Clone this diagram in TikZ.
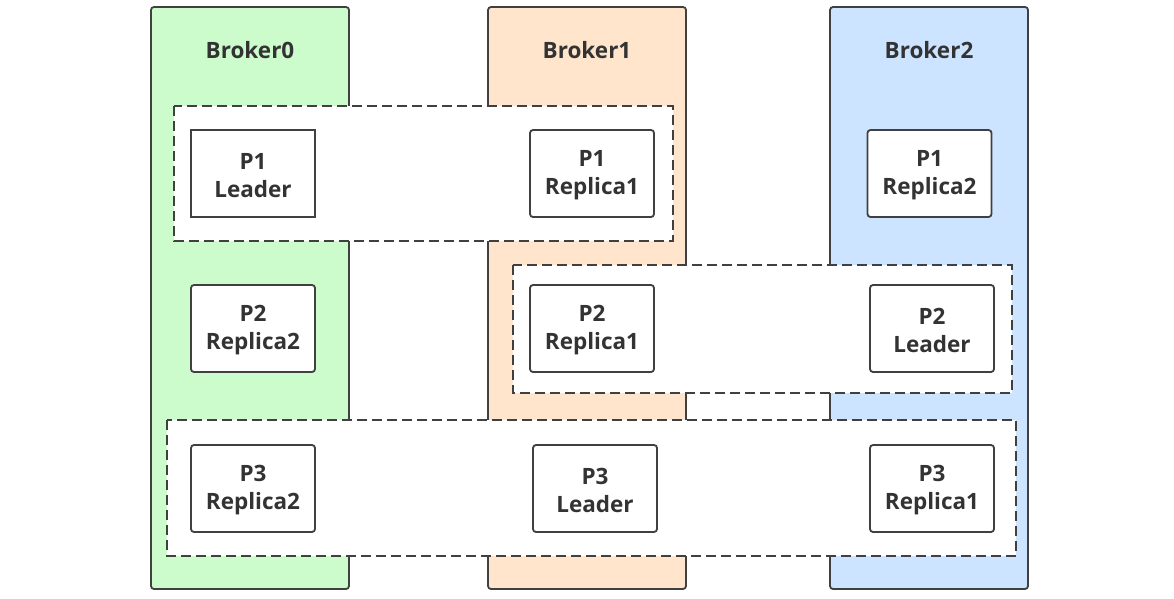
\documentclass[tikz,border=0pt]{standalone}
\usepackage{fontspec}
\setmainfont{Open Sans}
\definecolor{edge}{HTML}{404040}
\definecolor{txt}{HTML}{333333}
\definecolor{bgreen}{HTML}{CCFCCC}
\definecolor{borange}{HTML}{FFE5CC}
\definecolor{bblue}{HTML}{CCE4FF}

\begin{document}
\begin{tikzpicture}[x=1pt,y=-1pt,
    part/.style={draw=edge,line width=1.8pt,fill=white,minimum width=124pt,minimum height=87pt,inner sep=0pt},
    ptext/.style={align=center,text=txt,font=\bfseries\fontsize{22.5}{28}\selectfont},
    soft/.style={rounded corners=3pt},
    sharp/.style={rounded corners=0pt},
    grp/.style={draw=edge,line width=2pt,dash pattern=on 10pt off 5pt,fill=white}]
  \useasboundingbox (0,0) rectangle (1174,598);
  % brokers
  \foreach \i/\x/\c in {0/151/bgreen, 1/488/borange, 2/830/bblue}{
    \draw[draw=edge,line width=1.8pt,fill=\c,rounded corners=3pt] (\x,7) rectangle ++(198,582);
    \node[ptext] (b\i) at (\x+99,50) {Broker\i};
  }
  % partition groups
  \draw[grp] (174,106) rectangle (673,241);
  \draw[grp] (513,265) rectangle (1012,393);
  \draw[grp] (167,420) rectangle (1016,556);
  % partitions
  \foreach \n/\x/\y/\p/\r/\s in {p1l/253/173.5/P1/Leader/sharp, p1a/592/173.5/P1/Replica1/soft, p1b/929.5/173.5/P1/Replica2/soft,
      p2b/253/328.5/P2/Replica2/soft, p2a/592/328.5/P2/Replica1/soft, p2l/932/328.5/P2/Leader/soft,
      p3b/253/488.5/P3/Replica2/soft, p3l/595/488.5/P3/Leader/soft, p3a/932/488.5/P3/Replica1/soft}{
    \node[part,\s] (\n) at (\x,\y) {};
    \node[ptext,yshift=-2pt] at (\n) {\p\\\r};
  }
\end{tikzpicture}
\end{document}
